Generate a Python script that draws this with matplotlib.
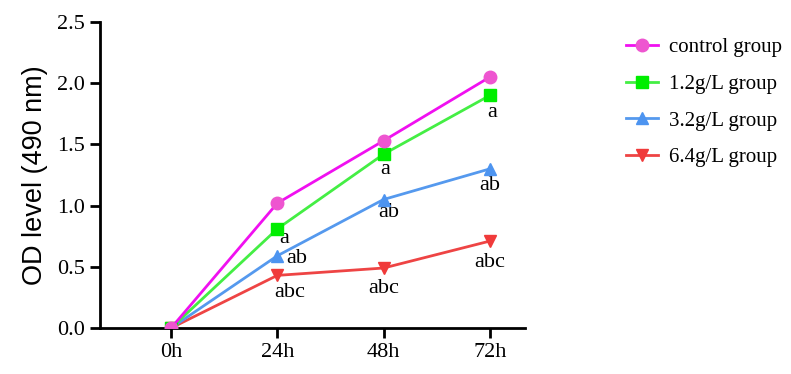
import matplotlib.pyplot as plt

# dados
tempos = ['0h', '24h', '48h', '72h']
controle = [0.0, 1.02, 1.53, 2.05]
g12 = [0.0, 0.81, 1.42, 1.90]
g32 = [0.0, 0.59, 1.05, 1.30]
g64 = [0.0, 0.43, 0.49, 0.71]
nomes = ['control group', '1.2g/L group', '3.2g/L group', '6.4g/L group']
letras_g12 = ['', 'a', 'a', 'a']
letras_g32 = ['', 'ab', 'ab', 'ab']
letras_g64 = ['', 'abc', 'abc', 'abc']

serif = 'Liberation Serif'
sans = 'Liberation Sans'

fig = plt.figure(figsize=(7.91, 3.74), dpi=100)
ax = fig.add_axes([0.1264, 0.123, 0.537, 0.818])

x = list(range(len(tempos)))
estilos = [
    (controle, '#f010f0', '#ee55d0', 'o', 9, 6),
    (g12, '#44ee44', '#00ee00', 's', 8.5, 5),
    (g32, '#5599ee', '#4d94f0', '^', 9, 4),
    (g64, '#ee4444', '#f03a3a', 'v', 9, 3),
]
for (vals, cor_linha, cor_marc, marc, ms, z), nome in zip(estilos, nomes):
    ax.plot(x, vals, color=cor_linha, lw=2.0, marker=marc, ms=ms,
            mfc=cor_marc, mec=cor_marc, label=nome, zorder=z)

# letras de significancia (deslocamento em pixels)
desloc_g12 = [None, (7, -10), (2, -15), (2, -17)]
desloc_g32 = [None, (19, -3), (5, -13), (0, -17)]
desloc_g64 = [None, (12, -17), (0, -20), (0, -21)]
for vals, letras, desl in [(g12, letras_g12, desloc_g12),
                           (g32, letras_g32, desloc_g32),
                           (g64, letras_g64, desloc_g64)]:
    for xi, v, t, d in zip(x, vals, letras, desl):
        if t:
            ax.annotate(t, (xi, v), xytext=d, textcoords='offset pixels',
                        ha='center', va='center', fontsize=16, family=serif)

ax.set_ylim(0, 2.5)
ax.set_xlim(-0.67, 3.33)
ax.set_xticks(x)
ax.set_xticklabels(tempos, fontsize=16, family=serif)
ax.set_yticks([0, 0.5, 1.0, 1.5, 2.0, 2.5])
ax.set_yticklabels(['0.0', '0.5', '1.0', '1.5', '2.0', '2.5'], fontsize=16, family=serif)
ax.set_ylabel('OD level (490 nm)', fontsize=19.5, family=sans, labelpad=6)
for lado in ['top', 'right']:
    ax.spines[lado].set_visible(False)
for lado in ['left', 'bottom']:
    ax.spines[lado].set_linewidth(2)
ax.tick_params(width=2, length=7, pad=4)

leg = ax.legend(loc='upper left', bbox_to_anchor=(1.195, 1.01), frameon=False,
                prop={'family': serif, 'size': 15}, labelspacing=0.82,
                handlelength=1.5, handletextpad=0.55)

fig.savefig('out.png', dpi=100)
